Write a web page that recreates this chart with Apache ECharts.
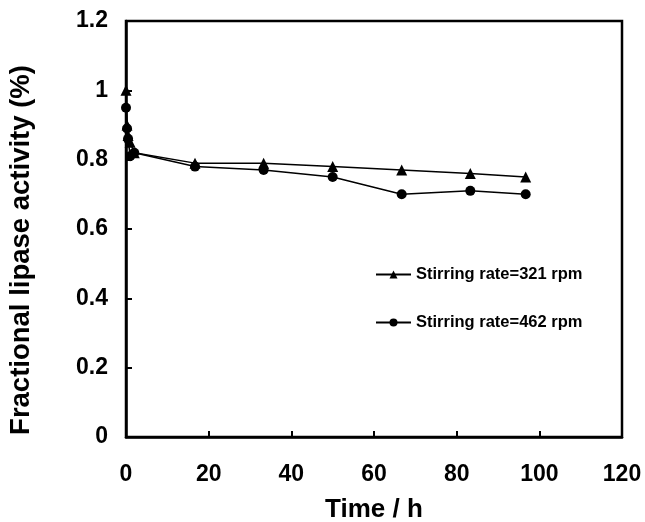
<!DOCTYPE html>
<html>
<head>
<meta charset="utf-8">
<script src="https://cdn.jsdelivr.net/npm/echarts@6/dist/echarts.min.js"></script>
<style>html,body{margin:0;padding:0;background:#fff}#c{width:645px;height:522px}</style>
</head>
<body>
<div id="c"></div>
<script>
var timeH = [0, 0.25, 0.5, 1, 2, 16.7, 33.3, 50, 66.7, 83.3, 96.7];
var rate321 = [1.0, 0.90, 0.87, 0.85, 0.82, 0.79, 0.79, 0.78, 0.77, 0.76, 0.75];
var rate462 = [0.95, 0.89, 0.86, 0.81, 0.82, 0.78, 0.77, 0.75, 0.70, 0.71, 0.70];
var seriesNames = ['Stirring rate=321 rpm', 'Stirring rate=462 rpm'];
var xTicks = [0, 20, 40, 60, 80, 100, 120];
var yTicks = [0, 0.2, 0.4, 0.6, 0.8, 1, 1.2];

function pairs(xs, ys) { return xs.map(function (x, i) { return [x, ys[i]]; }); }
var font = 'Liberation Sans, Arial, sans-serif';
var chart = echarts.init(document.getElementById('c'), null, {renderer: 'canvas'});
chart.setOption({
  animation: false,
  backgroundColor: '#fff',
  grid: {left: 126, right: 23, top: 21, bottom: 85, show: true, borderColor: '#000', borderWidth: 2.5,
         outerBoundsMode: 'none', containLabel: false},
  legend: {
    orient: 'vertical', left: 375, top: 266, padding: 0, itemGap: 31, itemWidth: 35, itemHeight: 10,
    textStyle: {fontFamily: font, fontWeight: 'bold', fontSize: 16.5, color: '#000'},
    data: seriesNames
  },
  xAxis: {
    type: 'value', min: xTicks[0], max: xTicks[xTicks.length - 1], interval: 20,
    name: 'Time / h', nameLocation: 'middle', nameGap: 60,
    nameTextStyle: {fontFamily: font, fontWeight: 'bold', fontSize: 26, color: '#000'},
    axisLine: {lineStyle: {color: '#000', width: 2.5}},
    axisTick: {inside: true, length: 6, lineStyle: {color: '#000', width: 2}},
    axisLabel: {margin: 26, fontFamily: font, fontWeight: 'bold', fontSize: 23, color: '#000'},
    splitLine: {show: false}
  },
  yAxis: {
    type: 'value', min: yTicks[0], max: yTicks[yTicks.length - 1], interval: 0.2,
    name: 'Fractional lipase activity (%)', nameLocation: 'middle', nameGap: 91, nameRotate: 90,
    nameTextStyle: {fontFamily: font, fontWeight: 'bold', fontSize: 27.5, color: '#000', padding: [0, 42, 0, 0]},
    axisLine: {lineStyle: {color: '#000', width: 2.5}},
    axisTick: {inside: true, length: 6, lineStyle: {color: '#000', width: 2}},
    axisLabel: {margin: 18, fontFamily: font, fontWeight: 'bold', fontSize: 23, color: '#000',
      formatter: function (v) { return String(Math.round(v * 10) / 10); }},
    splitLine: {show: false}
  },
  series: [
    {name: seriesNames[0], type: 'line', data: pairs(timeH, rate321), symbol: 'triangle', symbolSize: 11,
     lineStyle: {color: '#000', width: 1.5}, itemStyle: {color: '#000'}},
    {name: seriesNames[1], type: 'line', data: pairs(timeH, rate462), symbol: 'circle', symbolSize: 10,
     lineStyle: {color: '#000', width: 1.5}, itemStyle: {color: '#000'}}
  ]
});
</script>
</body>
</html>
